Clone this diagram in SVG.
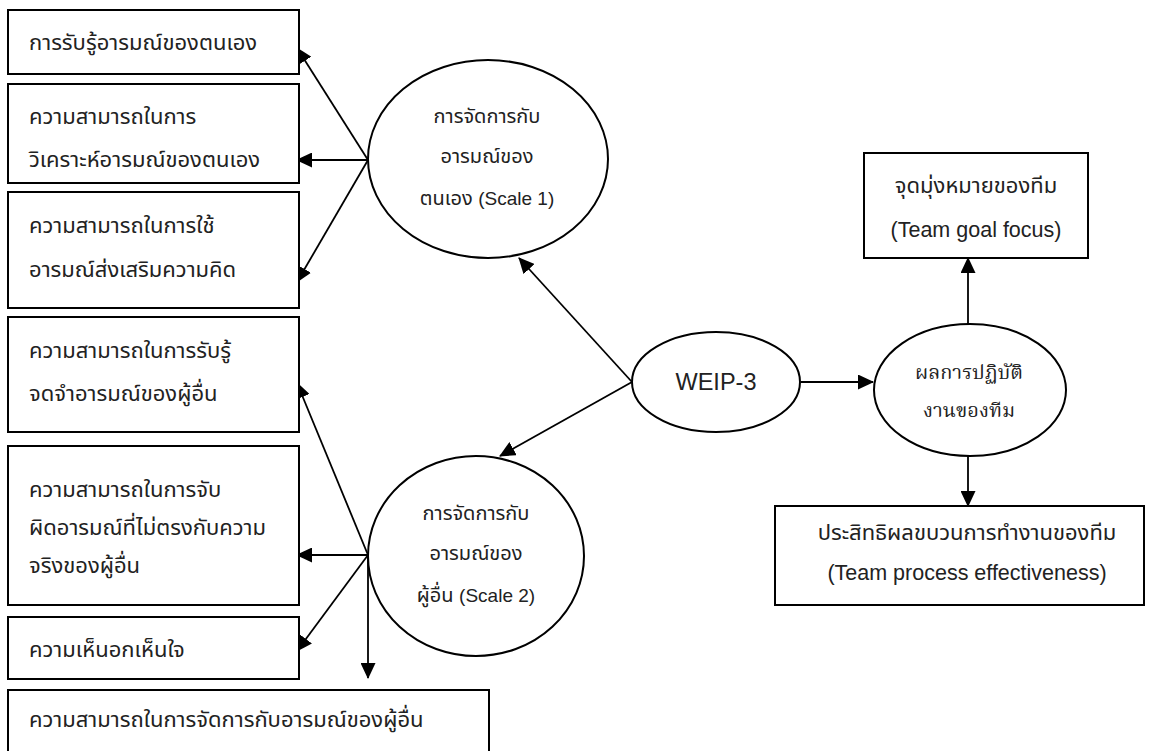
<svg xmlns="http://www.w3.org/2000/svg" width="1151" height="751" viewBox="0 0 1151 751">
  <style>
    .box { fill: #ffffff; stroke: #000000; stroke-width: 2; }
    .ell { fill: #ffffff; stroke: #000000; stroke-width: 2; }
    .lbl { font-family: "Liberation Sans", "Noto Sans Thai", "Noto Sans", "DejaVu Sans", sans-serif; font-size: 22px; fill: #222222; }
    .sm { font-size: 20px; }
    .mid { text-anchor: middle; }
    .ser { font-family: "Liberation Serif", "Noto Serif Thai", "Noto Sans Thai", serif; font-size: 20px; }
    .con { fill: none; stroke: #000000; stroke-width: 1.8; marker-end: url(#arrow); }
  </style>
  <defs>
    <marker id="arrow" markerUnits="userSpaceOnUse" markerWidth="16" markerHeight="15" refX="15" refY="7.5" orient="auto">
      <path d="M0,0 L16,7.5 L0,15 Z" fill="#000000"/>
    </marker>
  </defs>
  <rect width="1151" height="751" fill="#ffffff"/>

  <!-- connectors -->
  <g id="connectors">
    <line class="con" x1="368" y1="160" x2="297" y2="48"/>
    <line class="con" x1="368" y1="160" x2="297" y2="160"/>
    <line class="con" x1="368" y1="160" x2="297" y2="282"/>
    <line class="con" x1="368" y1="555" x2="297" y2="383"/>
    <line class="con" x1="368" y1="555" x2="297" y2="555"/>
    <line class="con" x1="368" y1="555" x2="297" y2="651"/>
    <line class="con" x1="368" y1="555" x2="368" y2="678"/>
    <line class="con" x1="632" y1="382" x2="519" y2="258"/>
    <line class="con" x1="632" y1="382" x2="500" y2="456"/>
    <line class="con" x1="801" y1="382" x2="873" y2="382"/>
    <line class="con" x1="968" y1="324" x2="968" y2="258"/>
    <line class="con" x1="968" y1="455" x2="968" y2="506"/>
  </g>

  <!-- self-emotion indicators -->
  <g id="box-self-awareness">
    <rect class="box" x="8" y="10" width="291" height="64"/>
    <text class="lbl" x="29" y="50">การรับรู้อารมณ์ของตนเอง</text>
  </g>
  <g id="box-self-analysis">
    <rect class="box" x="8" y="84" width="291" height="99"/>
    <text class="lbl" x="29" y="124">ความสามารถในการ</text>
    <text class="lbl" x="29" y="167">วิเคราะห์อารมณ์ของตนเอง</text>
  </g>
  <g id="box-self-use">
    <rect class="box" x="8" y="192" width="291" height="116"/>
    <text class="lbl" x="29" y="233">ความสามารถในการใช้</text>
    <text class="lbl" x="29" y="277">อารมณ์ส่งเสริมความคิด</text>
  </g>

  <!-- others-emotion indicators -->
  <g id="box-others-recognition">
    <rect class="box" x="8" y="317" width="291" height="115"/>
    <text class="lbl" x="29" y="358">ความสามารถในการรับรู้</text>
    <text class="lbl" x="29" y="401">จดจำอารมณ์ของผู้อื่น</text>
  </g>
  <g id="box-others-mismatch">
    <rect class="box" x="8" y="446" width="291" height="159"/>
    <text class="lbl" x="29" y="497">ความสามารถในการจับ</text>
    <text class="lbl" x="29" y="535">ผิดอารมณ์ที่ไม่ตรงกับความ</text>
    <text class="lbl" x="29" y="573">จริงของผู้อื่น</text>
  </g>
  <g id="box-empathy">
    <rect class="box" x="8" y="617" width="291" height="62"/>
    <text class="lbl" x="29" y="657">ความเห็นอกเห็นใจ</text>
  </g>
  <g id="box-others-management">
    <rect class="box" x="8" y="690" width="481" height="70"/>
    <text class="lbl" x="29" y="727">ความสามารถในการจัดการกับอารมณ์ของผู้อื่น</text>
  </g>

  <!-- latent factors -->
  <g id="scale-1">
    <ellipse class="ell" cx="488" cy="159" rx="120" ry="99"/>
    <text class="lbl sm mid" x="487" y="123">การจัดการกับ</text>
    <text class="lbl sm mid" x="487" y="163">อารมณ์ของ</text>
    <text class="lbl sm mid" x="487" y="205">ตนเอง <tspan style="font-size:19px">(Scale 1)</tspan></text>
  </g>
  <g id="scale-2">
    <ellipse class="ell" cx="476" cy="556" rx="108" ry="100"/>
    <text class="lbl sm mid" x="476" y="520">การจัดการกับ</text>
    <text class="lbl sm mid" x="476" y="560">อารมณ์ของ</text>
    <text class="lbl sm mid" x="476" y="602">ผู้อื่น <tspan style="font-size:19px">(Scale 2)</tspan></text>
  </g>
  <g id="weip-3">
    <ellipse class="ell" cx="716" cy="382" rx="84" ry="50"/>
    <text class="lbl mid" x="716" y="390" style="font-size:23.5px">WEIP-3</text>
  </g>
  <g id="team-performance">
    <ellipse class="ell" cx="970" cy="390" rx="96" ry="66"/>
    <text class="lbl mid ser" x="969" y="379">ผลการปฏิบัติ</text>
    <text class="lbl mid ser" x="969" y="417">งานของทีม</text>
  </g>

  <!-- team outcomes -->
  <g id="box-team-goal">
    <rect class="box" x="864" y="153" width="224" height="105"/>
    <text class="lbl mid" x="976" y="193">จุดมุ่งหมายของทีม</text>
    <text class="lbl mid" x="976" y="237" style="font-size:21.5px">(Team goal focus)</text>
  </g>
  <g id="box-team-process">
    <rect class="box" x="775" y="506" width="369" height="99"/>
    <text class="lbl mid" x="967" y="540">ประสิทธิผลขบวนการทำงานของทีม</text>
    <text class="lbl mid" x="967" y="580" style="font-size:21.5px">(Team process effectiveness)</text>
  </g>
</svg>
